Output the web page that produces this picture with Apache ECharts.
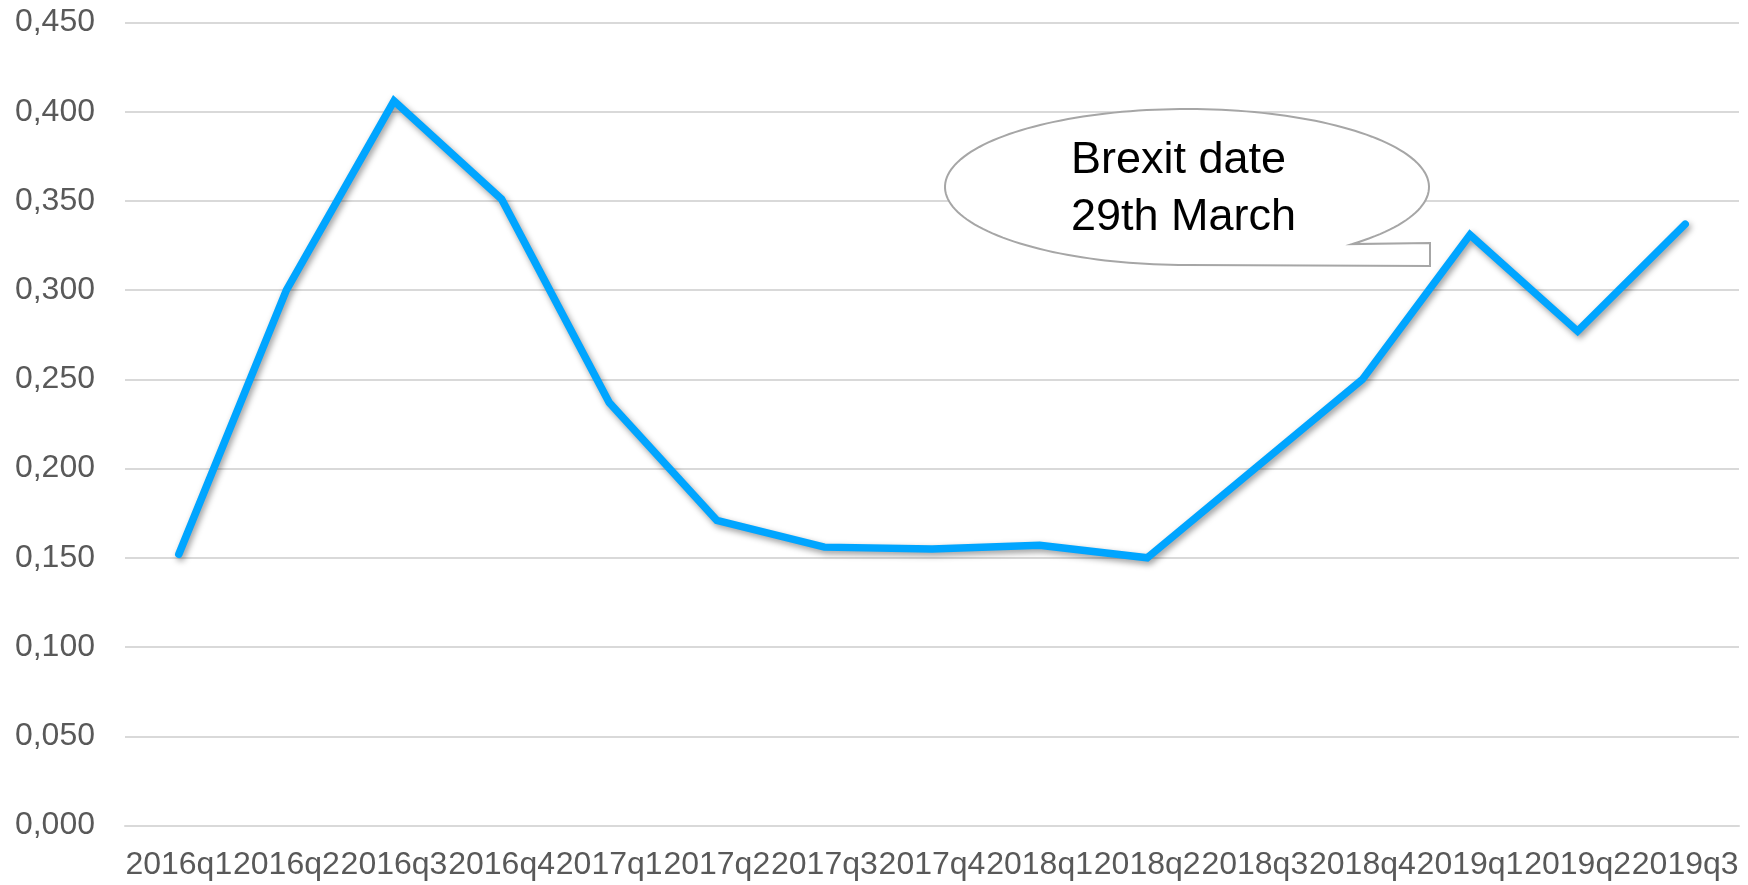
<!DOCTYPE html>
<html>
<head>
<meta charset="utf-8">
<script src="https://cdn.jsdelivr.net/npm/echarts@6/dist/echarts.min.js"></script>
<style>
html,body{margin:0;padding:0;background:#fff;}
#chart{width:1748px;height:885px;}
</style>
</head>
<body>
<div id="chart"></div>
<script>
const categories = ['2016q1','2016q2','2016q3','2016q4','2017q1','2017q2','2017q3','2017q4','2018q1','2018q2','2018q3','2018q4','2019q1','2019q2','2019q3'];
const values = [0.152, 0.300, 0.406, 0.351, 0.237, 0.171, 0.156, 0.155, 0.157, 0.150, 0.200, 0.250, 0.331, 0.277, 0.337];
const calloutLines = ['Brexit date', '29th March'];

// callout balloon outline (annotation shape, not data)
function balloonPoints() {
  const cx = 1187, cy = 187, rx = 242, ry = 78;
  const pts = [];
  const t0 = Math.PI / 2, t1 = 2 * Math.PI + Math.acos(165 / 242);
  const n = 160;
  for (let i = 0; i <= n; i++) {
    const t = t0 + (t1 - t0) * i / n;
    pts.push([cx + rx * Math.cos(t), cy + ry * Math.sin(t)]);
  }
  pts.push([1430, 243], [1430, 266], [1187, 265]);
  return pts;
}

const chart = echarts.init(document.getElementById('chart'));
const FONT = '"Liberation Sans", Arial, sans-serif';
chart.setOption({
  animation: false,
  backgroundColor: '#ffffff',
  grid: { left: 125, right: 9, top: 22.5, bottom: 59.5, containLabel: false },
  xAxis: {
    type: 'category',
    data: categories,
    boundaryGap: true,
    axisLine: { show: true, lineStyle: { color: '#D9D9D9', width: 2 } },
    axisTick: { show: false },
    axisLabel: { interval: 0, hideOverlap: false, color: '#595959', fontSize: 32, fontFamily: FONT, margin: 24 },
    splitLine: { show: false }
  },
  yAxis: {
    type: 'value',
    min: 0, max: 0.45, interval: 0.05,
    axisLine: { show: false },
    axisTick: { show: false },
    axisLabel: {
      color: '#595959', fontSize: 32, fontFamily: FONT, margin: 30,
      formatter: v => v.toFixed(3).replace('.', ',')
    },
    splitLine: { lineStyle: { color: '#D9D9D9', width: 2 } }
  },
  series: [{
    type: 'line',
    data: values,
    symbol: 'none',
    smooth: false,
    lineStyle: {
      color: '#00A5FF', width: 7.5, cap: 'round', join: 'miter',
      shadowColor: 'rgba(0,0,0,0.4)', shadowBlur: 6, shadowOffsetX: 2, shadowOffsetY: 3
    },
    z: 2
  }],
  graphic: [
    {
      type: 'polygon',
      z: 10,
      shape: { points: balloonPoints() },
      style: { fill: '#ffffff', stroke: '#A6A6A6', lineWidth: 2 }
    },
    {
      type: 'text',
      z: 11,
      left: 1071, top: 132,
      style: {
        text: calloutLines.join('\n'),
        font: '45px ' + FONT,
        fill: '#000000',
        lineHeight: 57
      }
    }
  ]
});
</script>
</body>
</html>
